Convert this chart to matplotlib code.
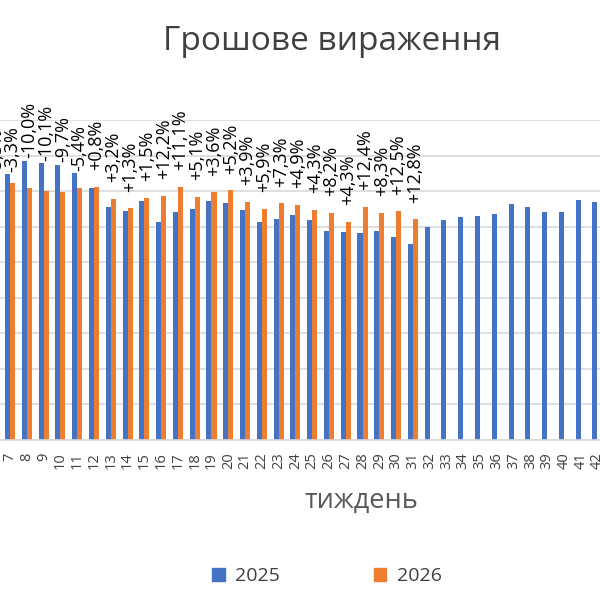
import numpy as np
import matplotlib.pyplot as plt
from matplotlib.patches import Patch

plt.rcParams['font.family'] = ['Open Sans', 'DejaVu Sans']

# тижні, що видно на картинці (тиждень 6 майже за краєм)
weeks = list(range(6, 43))
sales_2025 = [7.40, 7.47, 7.85, 7.78, 7.73, 7.50, 7.08, 6.56, 6.44, 6.72,
              6.14, 6.42, 6.50, 6.72, 6.67, 6.47, 6.14, 6.21, 6.32, 6.19,
              5.89, 5.86, 5.83, 5.89, 5.71, 5.51, 5.98, 6.19, 6.27, 6.29,
              6.36, 6.63, 6.55, 6.40, 6.40, 6.75, 6.68]
sales_2026 = [7.00, 7.22, 7.08, 7.00, 6.98, 7.08, 7.12, 6.79, 6.52, 6.81,
              6.86, 7.12, 6.83, 6.97, 7.02, 6.70, 6.50, 6.66, 6.62, 6.47,
              6.38, 6.13, 6.56, 6.38, 6.43, 6.21]
change_labels = ["-5,5%", "-3,3%", "-10,0%", "-10,1%", "-9,7%", "-5,4%",
                 "+0,8%", "+3,2%", "+1,3%", "+1,5%", "+12,2%", "+11,1%",
                 "+5,1%", "+3,6%", "+5,2%", "+3,9%", "+5,9%", "+7,3%",
                 "+4,9%", "+4,3%", "+8,2%", "+4,3%", "+12,4%", "+8,3%",
                 "+12,5%", "+12,8%"]

blue = '#4472C4'
orange = '#ED7D31'
grid_col = '#D9D9D9'

fig = plt.figure(figsize=(6, 6), dpi=100)
# графік обрізаний зліва і справа, тому осі на всю ширину
ax = fig.add_axes([0, 160 / 600, 1, 320 / 600])

x = np.array(weeks, dtype=float)
w = 0.3
ax.bar(x - w / 2, sales_2025, width=w, color=blue, zorder=2)
x26 = x[:len(sales_2026)]
ax.bar(x26 + w / 2, sales_2026, width=w, color=orange, zorder=2)

for xi, a, b, lab in zip(x26, sales_2025, sales_2026, change_labels):
    off = 2 if lab.startswith('-') else 12
    ax.annotate(lab, xy=(xi + w / 2, max(a, b)), xytext=(0, off),
                textcoords='offset points', rotation=90, ha='center',
                va='bottom', fontsize=13, color='black',
                annotation_clip=False)

ax.set_yticks(np.arange(0, 10, 1))
ax.yaxis.grid(True, color=grid_col, linewidth=1.2, zorder=0)
ax.set_axisbelow(True)
ax.tick_params(axis='y', left=False, labelleft=False)
ax.set_xticks(x)
ax.set_xticklabels([str(wk) for wk in weeks], rotation=90, fontsize=10.5,
                   color='#404040')
ax.tick_params(axis='x', length=0, pad=9)
# межі після set_xticks, бо тики розширюють вигляд
ax.set_xlim(6.40, 42.15)
ax.set_ylim(0, 9)
for s in ['left', 'right', 'top']:
    ax.spines[s].set_visible(False)
ax.spines['bottom'].set_color(grid_col)
ax.spines['bottom'].set_linewidth(1.2)

fig.text(0.553, 1 - 50 / 600, 'Грошове вираження', ha='center',
         va='baseline', fontsize=24, color='#404040')
fig.text(0.603, 1 - 508 / 600, 'тиждень', ha='center', va='baseline',
         fontsize=19.5, color='#595959')

handles = [Patch(color=blue, label='2025'), Patch(color=orange, label='2026')]
fig.legend(handles=handles, loc='center', bbox_to_anchor=(0.545, 1 - 576 / 600),
           ncol=2, frameon=False, fontsize=14, handlelength=0.65,
           handleheight=0.65, handletextpad=0.55, columnspacing=4.8,
           labelcolor='#404040')

fig.savefig('out.png', dpi=100)
